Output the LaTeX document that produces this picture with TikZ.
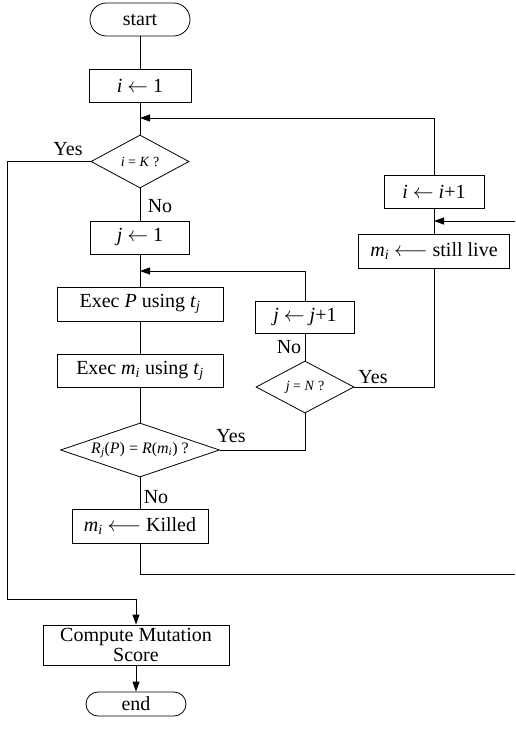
\documentclass[tikz,border=0pt]{standalone}
\usepackage{amsmath}
\usepackage{fontspec}
\setmainfont{Liberation Serif}
\usetikzlibrary{shapes.geometric,arrows.meta}
\newcommand{\vi}[1]{\textit{#1}}
\newcommand{\lo}[1]{$_{\textit{#1}}$}
\begin{document}
\begin{tikzpicture}[x=1pt,y=-1pt,line width=0.8pt,
  every node/.style={inner sep=0pt},
  big/.style={font=\fontsize{20}{20}\selectfont},
  small/.style={font=\fontsize{14}{14}\selectfont},
  proc/.style={draw,rectangle,big,minimum height=33pt,minimum width=#1},
  term/.style={draw,rectangle,big,rounded corners=#1,minimum width=100pt,minimum height=2*#1},
  test/.style={draw,diamond,small,aspect=2},
  lbl/.style={big},
  flow/.style={-{Triangle[length=10pt,width=7pt]}}]
\useasboundingbox (0,0) rectangle (515,729);

% main column
\node[term=16.5pt] (start) at (140,19.5) {start};
\node[proc=102pt] (i1) at (140,85.5) {\vi{i} $\leftarrow$ 1};
\node[test,minimum width=98pt,minimum height=53pt] (dK) at (140,161.5) {\vi{i} = \vi{K} ?};
\node[proc=99pt] (j1) at (140,237.5) {\vi{j} $\leftarrow$ 1};
\node[proc=166pt,minimum height=34pt] (execP) at (140,304) {Exec \vi{P} using \vi{t}\lo{j}};
\node[proc=166pt] (execM) at (140,370.5) {Exec \vi{m}\lo{i} using \vi{t}\lo{j}};
\node[test,aspect=2.94,minimum width=159pt,minimum height=54pt,font=\fontsize{16}{16}\selectfont] (dR) at (140,450)
  {\vi{R}\lo{j}(\vi{P}) = \vi{R}(\vi{m}\lo{i}) ?};
\node[proc=136pt,minimum height=34pt] (killed) at (140,526) {\vi{m}\lo{i} $\longleftarrow$ Killed};
\node[proc=186pt,minimum height=40pt,align=center] (score) at (136,645) {Compute Mutation\\Score};
\node[term=12pt] (end) at (136,704) {end};

% inner loop column
\node[proc=99pt,minimum height=32pt] (jinc) at (305,317) {\vi{j} $\leftarrow$ \vi{j}+1};
\node[test,minimum width=98pt,minimum height=52pt] (dN) at (305,387) {\vi{j} = \vi{N} ?};

% outer loop column
\node[proc=100pt] (iinc) at (434,191.5) {\vi{i} $\leftarrow$ \vi{i}+1};
\node[proc=151pt,minimum height=34pt] (live) at (434,251) {\vi{m}\lo{i} $\longleftarrow$ still live};

% junction points
\coordinate (jOuter) at (140,118);
\coordinate (jInner) at (140,271);
\coordinate (jLive) at (434,221);
\coordinate (edgeIn) at (515,221);
\coordinate (edgeOut) at (515,574);
\coordinate (leftRail) at (7,599);
\coordinate (scoreIn) at (136,599);

% connectors
\draw (start) -- (i1);
\draw (i1) -- (dK);
\draw (dK) -- (j1);
\draw (j1) -- (execP);
\draw (execP) -- (execM);
\draw (execM) -- (dR);
\draw (dR) -- (killed);
\draw (dK.west) -| (leftRail) -- (scoreIn);
\draw[flow] (scoreIn) -- (score.north);
\draw[flow] (score) -- (end);
\draw (dR.east) -| (dN.south);
\draw (dN) -- (jinc);
\draw[flow] (jinc.north) |- (jInner);
\draw (dN.east) -| (live.south);
\draw (live) -- (iinc);
\draw[flow] (iinc.north) |- (jOuter);
\draw[flow] (edgeIn) -- (jLive);
\draw (killed.south) |- (edgeOut);

% branch labels
\node[lbl] (yK) at (68,149) {Yes};
\node[lbl] (nK) at (160,206) {No};
\node[lbl] (yR) at (231,436) {Yes};
\node[lbl] (nR) at (156,497) {No};
\node[lbl] (nN) at (289,347) {No};
\node[lbl] (yN) at (373,377) {Yes};
\end{tikzpicture}
\end{document}
